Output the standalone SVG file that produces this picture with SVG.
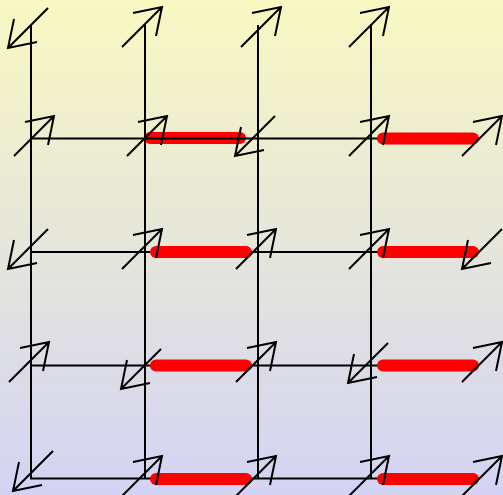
<svg xmlns="http://www.w3.org/2000/svg" width="503" height="495" viewBox="0 0 503 495">
<defs>
<linearGradient id="bg" x1="0" y1="0" x2="0" y2="1">
<stop offset="0" stop-color="#f8f8c2"/>
<stop offset="1" stop-color="#d3d3f4"/>
</linearGradient>
<path id="ne" d="M -40 40 L 0 0 M -29 6 L 0 0 L -6 29"/>
<path id="sw" d="M 40 -40 L 0 0 M 29 -6 L 0 0 L 6 -29"/>
</defs>
<style>
.ln{stroke:#000;stroke-width:2;fill:none}
.red{stroke:#ff0000;stroke-width:12;stroke-linecap:round;fill:none}
.ar{stroke:#000;stroke-width:2;fill:none}
</style>
<rect width="503" height="495" fill="url(#bg)"/>
<g id="red-under">
<line class="red" x1="150" y1="138" x2="240" y2="138"/>
</g>
<g id="connectors">
<line class="ln" x1="31" y1="25" x2="31" y2="479"/>
<line class="ln" x1="145" y1="25" x2="145" y2="479"/>
<line class="ln" x1="258" y1="25" x2="258" y2="479"/>
<line class="ln" x1="371" y1="25" x2="371" y2="479"/>
<line class="ln" x1="30" y1="138.5" x2="479" y2="138.5"/>
<line class="ln" x1="30" y1="252" x2="479" y2="252"/>
<line class="ln" x1="30" y1="365.5" x2="479" y2="365.5"/>
<line class="ln" x1="30" y1="478.5" x2="479" y2="478.5"/>
</g>
<g id="red-segments">
<line class="red" x1="383" y1="138.5" x2="473" y2="138.5"/>
<line class="red" x1="156" y1="252" x2="246" y2="252"/>
<line class="red" x1="383" y1="252" x2="473" y2="252"/>
<line class="red" x1="156" y1="365.5" x2="246" y2="365.5"/>
<line class="red" x1="383" y1="365.5" x2="473" y2="365.5"/>
<line class="red" x1="156" y1="479" x2="246" y2="479"/>
<line class="red" x1="383" y1="479" x2="473" y2="479"/>
</g>
<g id="arrows" class="ar">
<use href="#sw" x="8" y="48"/>
<use href="#ne" x="162" y="7"/>
<use href="#ne" x="281" y="7"/>
<use href="#ne" x="389" y="7"/>
<use href="#ne" x="54" y="116"/>
<use href="#ne" x="167" y="116"/>
<use href="#sw" x="235" y="156"/>
<use href="#ne" x="389" y="116"/>
<use href="#ne" x="502" y="116"/>
<use href="#sw" x="8" y="269"/>
<use href="#ne" x="162" y="229"/>
<use href="#ne" x="276" y="229"/>
<use href="#ne" x="389" y="229"/>
<use href="#sw" x="462" y="269"/>
<use href="#ne" x="49" y="342"/>
<use href="#sw" x="121" y="389"/>
<use href="#ne" x="276" y="342"/>
<use href="#sw" x="348" y="383"/>
<use href="#ne" x="502" y="342"/>
<use href="#sw" x="13" y="491"/>
<use href="#ne" x="162" y="456"/>
<use href="#ne" x="276" y="456"/>
<use href="#ne" x="389" y="456"/>
<use href="#ne" x="502" y="456"/>
</g>
</svg>
